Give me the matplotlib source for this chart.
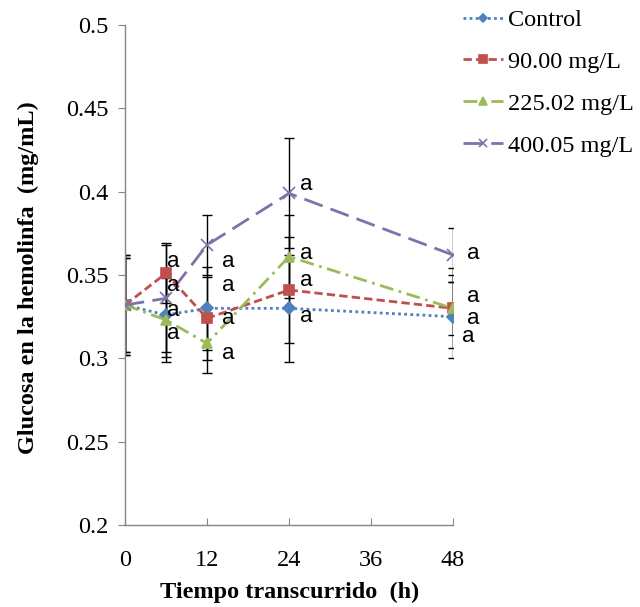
import matplotlib
matplotlib.use("Agg")
import matplotlib.pyplot as plt
from matplotlib.ticker import FuncFormatter

# data
hours = [0, 6, 12, 24, 48]
series_names = ["Control", "90.00 mg/L", "225.02 mg/L", "400.05 mg/L"]
control = [0.332, 0.326, 0.330, 0.330, 0.325]
dose_90 = [0.332, 0.351, 0.324, 0.341, 0.330]
dose_225 = [0.332, 0.323, 0.309, 0.361, 0.330]
dose_400 = [0.332, 0.336, 0.368, 0.399, 0.362]
err_control = [0.030, 0.025, 0.025, 0.032, 0.025]
err_90 = [0.028, 0.018, 0.025, 0.032, 0.024]
err_225 = [0.030, 0.025, 0.018, 0.025, 0.016]
err_400 = [0.028, 0.032, 0.018, 0.033, 0.016]
x_ticks = [0, 12, 24, 36, 48]
y_ticks = [0.2, 0.25, 0.3, 0.35, 0.4, 0.45, 0.5]

# significance letters (x, y)
letter_x = [6.1, 6.1, 6.1, 6.1, 14.2, 14.2, 14.2, 14.2,
            25.6, 25.6, 25.6, 25.6, 50.1, 50.1, 50.1, 49.3]
letter_y = [0.358, 0.344, 0.329, 0.315, 0.358, 0.344, 0.324, 0.303,
            0.404, 0.363, 0.347, 0.325, 0.363, 0.337, 0.324, 0.313]

serif = ["Liberation Serif", "DejaVu Serif"]

fig = plt.figure(figsize=(6.4, 6.07), dpi=100)
ax = fig.add_axes([125 / 640, 1 - 525 / 607, 328 / 640, 500 / 607])

styles = [
    dict(color="#4F81BD", ls=(0, (1, 1.2)), marker="D", ms=6),
    dict(color="#C0504D", ls=(0, (3, 1.5)), marker="s", ms=7.5),
    dict(color="#9BBB59", ls=(0, (5, 2, 1, 2)), marker="^", ms=7),
    dict(color="#7F72A8", ls=(0, (7, 3)), marker="x", ms=8),
]
values = [control, dose_90, dose_225, dose_400]
errors = [err_control, err_90, err_225, err_400]

handles = []
for name, vals, errs, st in zip(series_names, values, errors, styles):
    ax.errorbar(hours, vals, yerr=errs, fmt="none", ecolor="black",
                elinewidth=1.0, capsize=3.5, capthick=1.0, zorder=2)
    h, = ax.plot(hours, vals, color=st["color"], ls=st["ls"], lw=2,
                 marker=st["marker"], ms=st["ms"], mfc=st["color"],
                 mec=st["color"], mew=1.2, label=name, zorder=3)
    handles.append(h)

for lx, ly in zip(letter_x, letter_y):
    ax.text(lx, ly, "a", ha="left", va="center", fontsize=16,
            family=["Liberation Sans", "DejaVu Sans"], color="black", zorder=4)

ax.set_xlim(0, 48)
ax.set_ylim(0.2, 0.5)
ax.set_xticks(x_ticks)
ax.set_yticks(y_ticks)
ax.yaxis.set_major_formatter(FuncFormatter(lambda v, p: f"{v:g}"))

for side in ["top", "right"]:
    ax.spines[side].set_visible(False)
for side in ["left", "bottom"]:
    ax.spines[side].set_color("#868686")
    ax.spines[side].set_linewidth(1.0)

ax.tick_params(axis="x", direction="in", length=5, color="#868686", pad=18,
               labelsize=17.5)
ax.tick_params(axis="y", direction="out", length=5, color="#868686", pad=7,
               labelsize=17.5)
for lab in ax.get_xticklabels() + ax.get_yticklabels():
    lab.set_family(serif)

fig.text(28 / 640, 1 - 278 / 607, "Glucosa en la hemolinfa  (mg/mL)",
         rotation=90, ha="center", va="center", fontsize=17.5,
         fontweight="bold", family=serif)
fig.text(290 / 640, 1 - 592 / 607, "Tiempo transcurrido  (h)",
         ha="center", va="center", fontsize=17.5, fontweight="bold",
         family=serif)

fig.legend(handles=handles, loc="upper left",
           bbox_to_anchor=(463 / 640, 1 - 9 / 607), frameon=False,
           prop={"family": serif, "size": 17.5}, handlelength=1.65,
           handletextpad=0.2, labelspacing=0.82, borderaxespad=0,
           borderpad=0, markerscale=0.75)

fig.savefig("out.png", dpi=100, facecolor="white")
